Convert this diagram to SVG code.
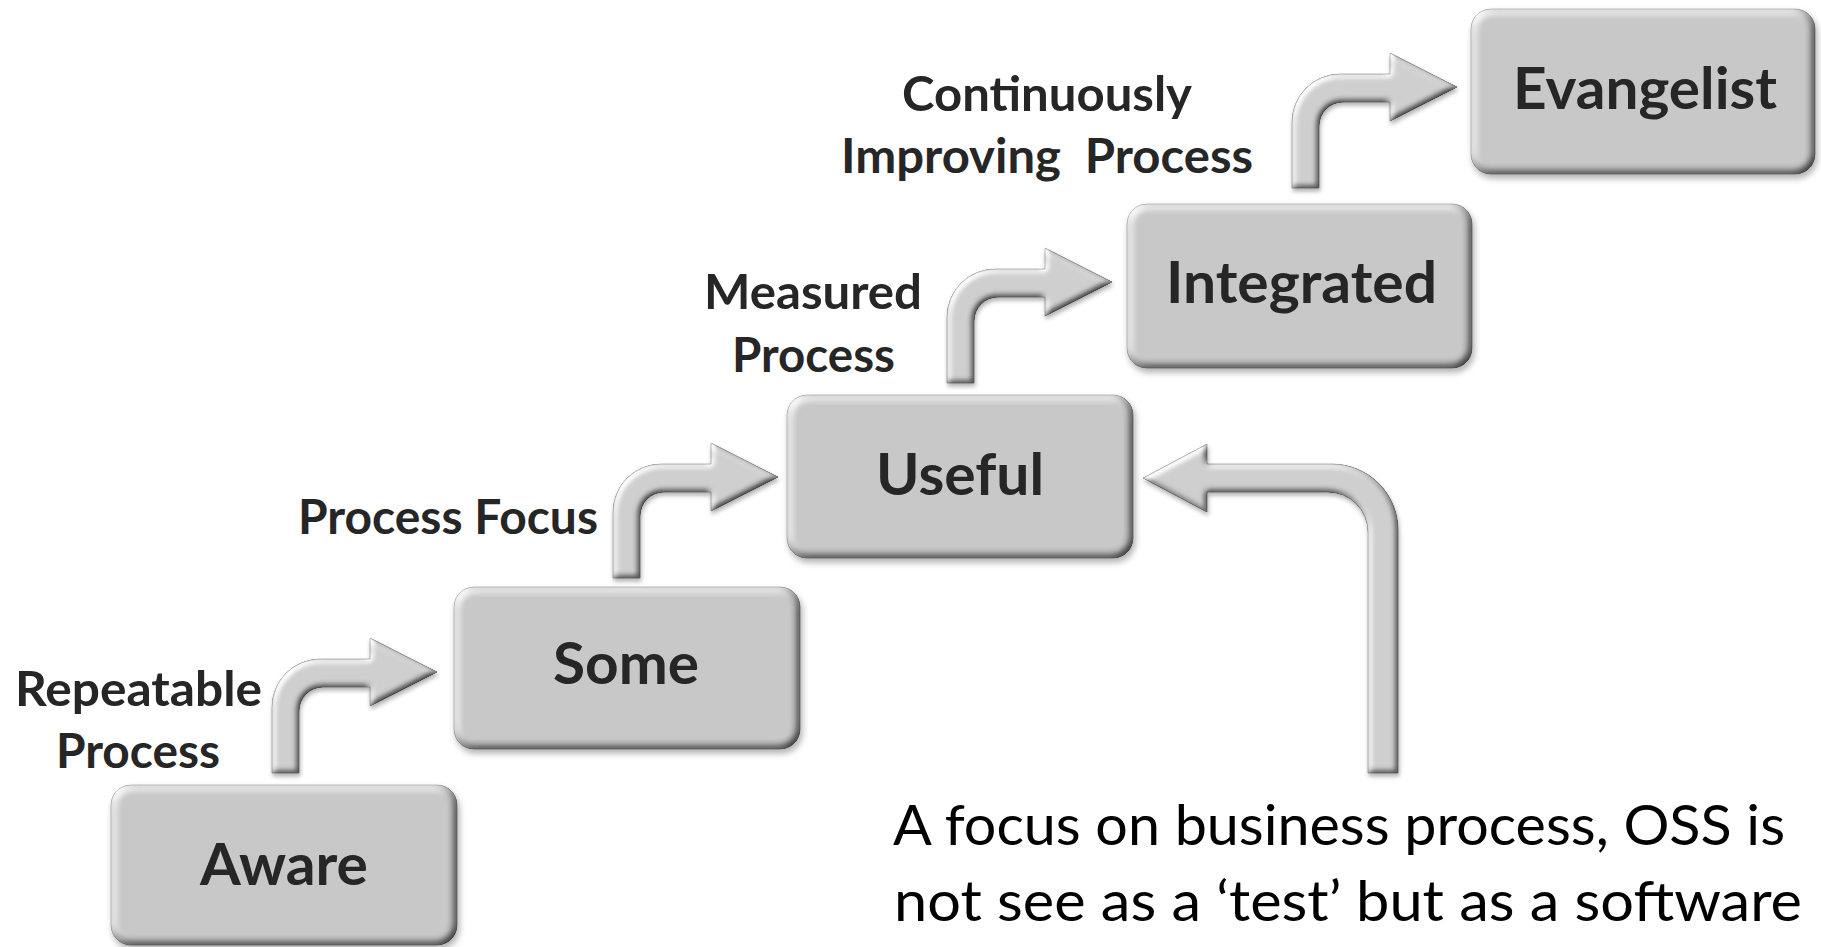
<svg xmlns="http://www.w3.org/2000/svg" width="1821" height="947" viewBox="0 0 1821 947">
<style>
  .box { fill: #cbcbcb; stroke: #a9a9a9; stroke-width: 1; filter: url(#bevelBox); }
  .arrow { fill: #d2d2d2; stroke: #9c9c9c; stroke-width: 1; filter: url(#bevelArrow); }
  .lbl { font-family: Lato, "Open Sans", "Liberation Sans", sans-serif; font-weight: 700; font-size: 57px; fill: #262626; }
  .step { font-family: Lato, "Open Sans", "Liberation Sans", sans-serif; font-weight: 700; font-size: 47px; fill: #262626; white-space: pre; }
  .note { font-family: Lato, "Open Sans", "Liberation Sans", sans-serif; font-weight: 400; font-size: 57px; fill: #000000; }
</style>
<defs>
  <filter id="bevelBox" x="-5%" y="-8%" width="115%" height="125%" color-interpolation-filters="sRGB">
    <feGaussianBlur in="SourceAlpha" stdDeviation="4" result="b"/>
    <feDiffuseLighting in="b" surfaceScale="4" diffuseConstant="1" lighting-color="#ffffff" result="d">
      <feDistantLight azimuth="225" elevation="55"/>
    </feDiffuseLighting>
    <feComposite in="SourceGraphic" in2="d" operator="arithmetic" k1="1.2" k2="0" k3="0" k4="0" result="lit"/>
    <feComposite in="lit" in2="SourceAlpha" operator="in" result="litc"/>
    <feGaussianBlur in="SourceAlpha" stdDeviation="3" result="sb"/>
    <feOffset in="sb" dx="2" dy="4" result="so"/>
    <feFlood flood-color="#000000" flood-opacity="0.3"/>
    <feComposite in2="so" operator="in" result="shadow"/>
    <feMerge><feMergeNode in="shadow"/><feMergeNode in="litc"/></feMerge>
  </filter>
  <filter id="bevelArrow" x="-10%" y="-10%" width="125%" height="125%" color-interpolation-filters="sRGB">
    <feGaussianBlur in="SourceAlpha" stdDeviation="3" result="b"/>
    <feDiffuseLighting in="b" surfaceScale="3" diffuseConstant="1" lighting-color="#ffffff" result="d">
      <feDistantLight azimuth="225" elevation="55"/>
    </feDiffuseLighting>
    <feComposite in="SourceGraphic" in2="d" operator="arithmetic" k1="1.2" k2="0" k3="0" k4="0" result="lit"/>
    <feComposite in="lit" in2="SourceAlpha" operator="in" result="litc"/>
    <feGaussianBlur in="SourceAlpha" stdDeviation="2" result="sb"/>
    <feOffset in="sb" dx="1" dy="3" result="so"/>
    <feFlood flood-color="#000000" flood-opacity="0.3"/>
    <feComposite in2="so" operator="in" result="shadow"/>
    <feMerge><feMergeNode in="shadow"/><feMergeNode in="litc"/></feMerge>
  </filter>
  <path id="bent" d="M 272 773 L 272 707 A 48 48 0 0 1 320 659 L 370 659 L 370 638 L 437 672 L 370 706 L 370 687 L 323 687 A 24 24 0 0 0 299 711 L 299 773 Z"/>
</defs>
<rect width="1821" height="947" fill="#ffffff"/>

<g id="connectors">
  <use href="#bent" class="arrow"/>
  <use href="#bent" class="arrow" transform="translate(341,-195)"/>
  <use href="#bent" class="arrow" transform="translate(675,-390)"/>
  <use href="#bent" class="arrow" transform="translate(1020,-585)"/>
  <path class="arrow" d="M 1398 773 L 1398 530 A 66 66 0 0 0 1332 464 L 1207 464 L 1207 444 L 1143 478 L 1207 512 L 1207 492 L 1328 492 A 40 40 0 0 1 1368 532 L 1368 773 Z"/>
</g>

<g id="node-aware">
  <rect class="box" x="111" y="785" width="346" height="160" rx="20"/>
  <text class="lbl" x="200" y="885" textLength="168" lengthAdjust="spacingAndGlyphs">Aware</text>
</g>
<g id="node-some">
  <rect class="box" x="454" y="587" width="346" height="162" rx="20"/>
  <text class="lbl" x="553" y="684" textLength="146" lengthAdjust="spacingAndGlyphs">Some</text>
</g>
<g id="node-useful">
  <rect class="box" x="787" y="395" width="346" height="163" rx="20"/>
  <text class="lbl" x="876" y="495" textLength="168" lengthAdjust="spacingAndGlyphs">Useful</text>
</g>
<g id="node-integrated">
  <rect class="box" x="1127" y="204" width="345" height="164" rx="20"/>
  <text class="lbl" x="1166" y="303" textLength="271" lengthAdjust="spacingAndGlyphs">Integrated</text>
</g>
<g id="node-evangelist">
  <rect class="box" x="1471" y="9" width="344" height="165" rx="20"/>
  <text class="lbl" x="1513" y="109" textLength="264" lengthAdjust="spacingAndGlyphs">Evangelist</text>
</g>

<g id="step-labels">
  <text class="step" x="15" y="706" textLength="247" lengthAdjust="spacingAndGlyphs">Repeatable</text>
  <text class="step" x="56" y="768" textLength="164" lengthAdjust="spacingAndGlyphs">Process</text>
  <text class="step" x="298" y="534" textLength="300" lengthAdjust="spacingAndGlyphs">Process Focus</text>
  <text class="step" x="704" y="309" textLength="218" lengthAdjust="spacingAndGlyphs">Measured</text>
  <text class="step" x="732" y="372" textLength="163" lengthAdjust="spacingAndGlyphs">Process</text>
  <text class="step" x="902" y="111" textLength="290" lengthAdjust="spacingAndGlyphs">Continuously</text>
  <text class="step" x="841" y="173" textLength="412" lengthAdjust="spacingAndGlyphs" xml:space="preserve">Improving  Process</text>
</g>

<g id="note">
  <text class="note" x="893" y="845" textLength="892" lengthAdjust="spacingAndGlyphs">A focus on business process, OSS is</text>
  <text class="note" x="894" y="921" textLength="908" lengthAdjust="spacingAndGlyphs">not see as a ‘test’ but as a software</text>
</g>
</svg>
